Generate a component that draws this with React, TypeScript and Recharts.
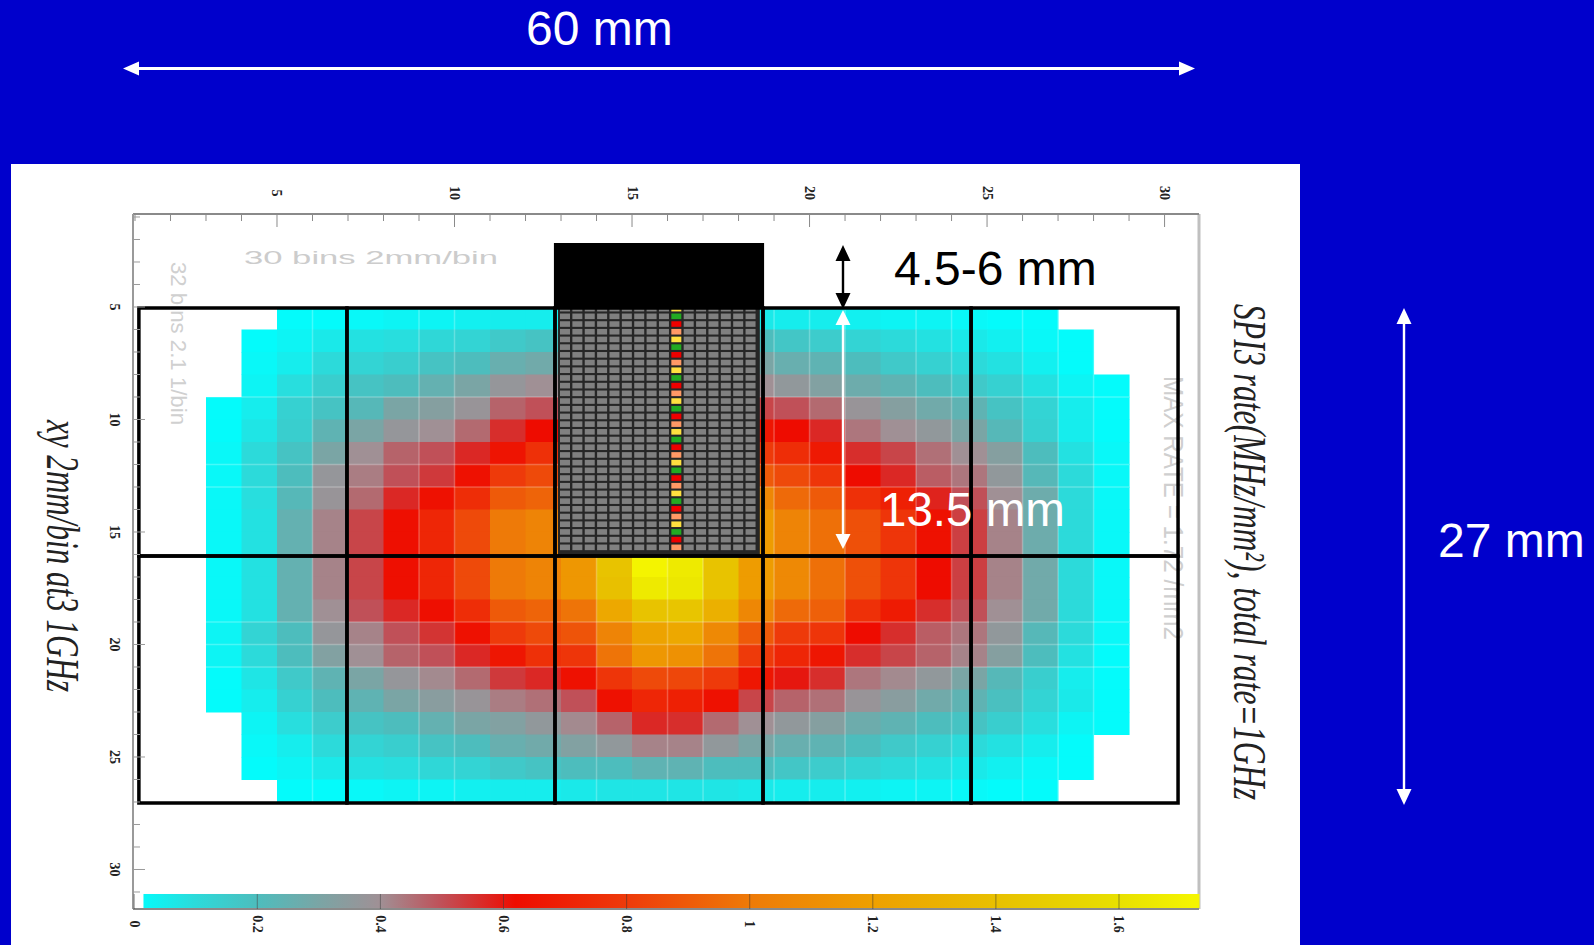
import React from "react";
import { ScatterChart, Scatter, XAxis, YAxis, ReferenceArea, ReferenceLine } from "recharts";

const n = null;

// bin numbers on the top and left axes
const xTicks = [1, 2, 3, 4, 5, 6, 7, 8, 9, 10, 11, 12, 13, 14, 15, 16, 17, 18, 19, 20, 21, 22, 23, 24, 25, 26, 27, 28, 29, 30];
const yTicks = [1, 2, 3, 4, 5, 6, 7, 8, 9, 10, 11, 12, 13, 14, 15, 16, 17, 18, 19, 20, 21, 22, 23, 24, 25, 26, 27, 28, 29, 30, 31];
const rateTicks = [0, 0.2, 0.4, 0.6, 0.8, 1, 1.2, 1.4, 1.6];

const firstBinX = 3;
const firstBinY = 5;

// rate per bin, MHz/mm2 (null = white, no hits)
const rateRows = [
  [n, n, 0.01, 0.01, 0.02, 0.03, 0.03, 0.04, 0.05, 0.05, 0.06, 0.07, 0.07, 0.07, 0.07, 0.06, 0.05, 0.05, 0.04, 0.03, 0.03, 0.02, 0.01, 0.01, n, n],
  [n, 0.01, 0.03, 0.06, 0.08, 0.09, 0.11, 0.12, 0.16, 0.18, 0.2, 0.2, 0.24, 0.24, 0.2, 0.2, 0.17, 0.15, 0.12, 0.1, 0.08, 0.06, 0.04, 0.02, 0.01, n],
  [n, 0.02, 0.05, 0.1, 0.12, 0.14, 0.18, 0.2, 0.26, 0.28, 0.32, 0.36, 0.42, 0.42, 0.36, 0.3, 0.26, 0.24, 0.2, 0.16, 0.13, 0.1, 0.08, 0.04, 0.01, n],
  [n, 0.03, 0.09, 0.14, 0.18, 0.2, 0.25, 0.3, 0.37, 0.4, 0.41, 0.47, 0.57, 0.56, 0.46, 0.4, 0.36, 0.32, 0.27, 0.24, 0.2, 0.16, 0.13, 0.08, 0.03, 0.01],
  [0.01, 0.05, 0.13, 0.18, 0.22, 0.3, 0.33, 0.38, 0.47, 0.5, 0.5, 0.64, 0.72, 0.7, 0.64, 0.52, 0.5, 0.46, 0.38, 0.33, 0.28, 0.24, 0.18, 0.12, 0.05, 0.01],
  [0.01, 0.07, 0.14, 0.24, 0.3, 0.37, 0.4, 0.46, 0.56, 0.62, 0.64, 0.78, 0.85, 0.84, 0.8, 0.66, 0.62, 0.57, 0.44, 0.4, 0.36, 0.3, 0.22, 0.13, 0.05, 0.01],
  [0.02, 0.1, 0.18, 0.3, 0.4, 0.47, 0.5, 0.57, 0.65, 0.76, 0.78, 0.98, 1.15, 1.12, 0.98, 0.8, 0.75, 0.67, 0.56, 0.52, 0.45, 0.4, 0.33, 0.2, 0.08, 0.02],
  [0.02, 0.1, 0.2, 0.37, 0.43, 0.5, 0.54, 0.64, 0.8, 0.85, 0.88, 1.05, 1.22, 1.25, 1.08, 0.9, 0.85, 0.78, 0.62, 0.57, 0.48, 0.44, 0.36, 0.22, 0.1, 0.02],
  [0.02, 0.09, 0.22, 0.38, 0.46, 0.57, 0.64, 0.75, 0.9, 0.93, 0.98, 1.25, 1.42, 1.43, 1.3, 1.07, 0.95, 0.9, 0.76, 0.7, 0.58, 0.5, 0.4, 0.27, 0.1, 0.02],
  [0.02, 0.08, 0.25, 0.42, 0.52, 0.63, 0.72, 0.85, 1, 1.05, 1.15, 1.4, 1.65, 1.65, 1.42, 1.18, 1.05, 0.97, 0.87, 0.78, 0.64, 0.53, 0.42, 0.27, 0.1, 0.02],
  [0.02, 0.08, 0.25, 0.42, 0.52, 0.63, 0.72, 0.85, 1, 1.05, 1.15, 1.4, 1.7, 1.65, 1.42, 1.18, 1.05, 0.97, 0.87, 0.78, 0.64, 0.53, 0.42, 0.27, 0.1, 0.02],
  [0.02, 0.08, 0.25, 0.42, 0.52, 0.63, 0.72, 0.85, 1, 1.05, 1.15, 1.42, 1.72, 1.66, 1.42, 1.18, 1.08, 0.97, 0.87, 0.78, 0.62, 0.53, 0.42, 0.28, 0.1, 0.02],
  [0.02, 0.08, 0.25, 0.42, 0.52, 0.63, 0.72, 0.85, 1, 1.05, 1.15, 1.4, 1.66, 1.64, 1.42, 1.18, 1.08, 0.97, 0.87, 0.78, 0.62, 0.53, 0.42, 0.28, 0.1, 0.02],
  [0.02, 0.08, 0.25, 0.4, 0.5, 0.57, 0.63, 0.75, 0.9, 0.93, 0.98, 1.25, 1.42, 1.43, 1.3, 1.07, 0.95, 0.92, 0.76, 0.68, 0.56, 0.5, 0.4, 0.28, 0.1, 0.02],
  [0.03, 0.12, 0.2, 0.37, 0.42, 0.5, 0.55, 0.64, 0.8, 0.85, 0.88, 1.05, 1.22, 1.25, 1.08, 0.9, 0.8, 0.78, 0.62, 0.56, 0.48, 0.44, 0.36, 0.22, 0.1, 0.02],
  [0.03, 0.1, 0.2, 0.32, 0.4, 0.47, 0.5, 0.57, 0.66, 0.76, 0.78, 0.98, 1.15, 1.12, 0.98, 0.8, 0.72, 0.66, 0.56, 0.52, 0.47, 0.42, 0.33, 0.2, 0.08, 0.01],
  [0.01, 0.07, 0.16, 0.24, 0.3, 0.37, 0.41, 0.46, 0.54, 0.57, 0.64, 0.78, 0.85, 0.84, 0.8, 0.66, 0.6, 0.56, 0.44, 0.41, 0.36, 0.3, 0.22, 0.14, 0.05, 0.01],
  [0.01, 0.05, 0.13, 0.2, 0.24, 0.3, 0.34, 0.38, 0.43, 0.45, 0.5, 0.64, 0.72, 0.7, 0.64, 0.52, 0.47, 0.45, 0.38, 0.34, 0.28, 0.24, 0.19, 0.12, 0.06, 0.01],
  [n, 0.03, 0.09, 0.15, 0.18, 0.2, 0.25, 0.3, 0.32, 0.36, 0.41, 0.47, 0.57, 0.56, 0.46, 0.4, 0.36, 0.33, 0.27, 0.24, 0.2, 0.18, 0.14, 0.09, 0.03, 0.01],
  [n, 0.02, 0.05, 0.1, 0.12, 0.14, 0.18, 0.2, 0.26, 0.28, 0.32, 0.36, 0.42, 0.42, 0.36, 0.3, 0.26, 0.24, 0.2, 0.16, 0.13, 0.1, 0.08, 0.05, 0.01, n],
  [n, 0.01, 0.03, 0.06, 0.08, 0.09, 0.11, 0.12, 0.16, 0.18, 0.2, 0.2, 0.24, 0.24, 0.2, 0.2, 0.17, 0.15, 0.12, 0.1, 0.08, 0.06, 0.04, 0.02, 0.01, n],
  [n, n, 0.01, 0.01, 0.02, 0.03, 0.03, 0.04, 0.05, 0.05, 0.06, 0.07, 0.07, 0.07, 0.07, 0.06, 0.05, 0.05, 0.04, 0.03, 0.03, 0.02, 0.01, 0.01, n, n],
];

// colour scale of the bar at the bottom
const rateStops = [0, 0.1, 0.2, 0.3, 0.4, 0.5, 0.62, 0.8, 1, 1.2, 1.4, 1.6, 1.72];
const rateColors = ["#00ffff", "#2cdada", "#4dbdbd", "#7aa5a5", "#a09095", "#c05058", "#ee0c00", "#ee3a0a", "#ee7a08", "#eea000", "#e8c000", "#e8e000", "#f4f400"];
const barEdges = [0.015, 0.2, 0.4, 0.6, 0.8, 1, 1.2, 1.4, 1.6, 1.73];
const barLevel = 31.4;

// the module outlines
const sectorX = [1.11, 6.97, 12.83, 18.69, 24.55, 30.38];
const sectorY = [5.04, 16.07, 27.04];

// lighter seams left in the map
const seamX = [6, 9, 10, 14, 16, 17, 19, 20, 21, 23, 24, 26, 27, 28];
const seamY = [9, 12, 13, 19, 20, 21];

// readout pixels of the chip
const sensorCols = [0, 1, 2, 3, 4, 5, 6, 7, 8, 9, 10, 11, 12, 13, 14, 15];
const sensorRows = [-1, 0, 1, 2, 3, 4, 5, 6, 7, 8, 9, 10, 11, 12, 13, 14, 15, 16, 17, 18, 19, 20, 21, 22, 23, 24, 25, 26, 27, 28, 29, 30];
const stripCol = 9;
const stripColors = ["#22aa22", "#ee0000", "#ff9966", "#ffe040"];

const hexToRgb = (hex: string) => [1, 3, 5].map((i) => parseInt(hex.slice(i, i + 2), 16));

function rateColor(v: number) {
  let i = 0;
  while (i < rateStops.length - 2 && v > rateStops[i + 1]) i++;
  const t = Math.min(1, (v - rateStops[i]) / (rateStops[i + 1] - rateStops[i]));
  const a = hexToRgb(rateColors[i]);
  const b = hexToRgb(rateColors[i + 1]);
  const c = a.map((ch, k) => Math.round(ch + (b[k] - ch) * t));
  return `rgb(${c[0]},${c[1]},${c[2]})`;
}

const heatCells = rateRows.flatMap((row, r) =>
  row.flatMap((rate, c) => (rate === null ? [] : [{ x: firstBinX + c + 0.5, y: firstBinY + r + 0.5, rate }]))
);

const sensorCells = sensorRows.flatMap((row) =>
  sensorCols.map((col) => ({
    col,
    row,
    fill: col === stripCol ? stripColors[(row + 4) % 4] : "#808080",
  }))
);

const barCells = barEdges.slice(0, -1).map((rate, i) => ({ rate, next: barEdges[i + 1], y: barLevel }));

const HeatCell = (props: any) => (
  <rect x={props.cx - 17.75} y={props.cy - 11.25} width={36} height={23} fill={rateColor(props.payload.rate)} />
);

const SensorCell = (props: any) => (
  <rect x={props.cx - 5} y={props.cy - 2.8} width={10} height={5.6} fill={props.payload.fill} />
);

// one stretch of the colour bar, 615px per unit of rate
const BarCell = (props: any) => (
  <rect x={props.cx} y={props.cy - 7} width={(props.payload.next - props.payload.rate) * 615 + 0.5} height={14} fill="url(#rateBar)" />
);

const TopTick = ({ x, y, payload }: any) => {
  const major = payload.value % 5 === 0;
  return (
    <g>
      <line x1={x} y1={y} x2={x} y2={y + (major ? 13 : 7)} stroke="#8a8a8a" strokeWidth={1} />
      {major && (
        <text x={x} y={y - 21} transform={`rotate(90 ${x} ${y - 21})`} textAnchor="middle" dominantBaseline="central" fontFamily="Liberation Serif" fontWeight="bold" fontSize={14} fill="#222">
          {payload.value}
        </text>
      )}
    </g>
  );
};

const LeftTick = ({ x, y, payload }: any) => {
  const major = payload.value % 5 === 0;
  return (
    <g>
      <line x1={x} y1={y} x2={x + (major ? 12 : 7)} y2={y} stroke="#9a9a9a" strokeWidth={1} />
      {major && (
        <text x={x - 19} y={y} transform={`rotate(90 ${x - 19} ${y})`} textAnchor="middle" dominantBaseline="central" fontFamily="Liberation Serif" fontWeight="bold" fontSize={14} fill="#222">
          {payload.value}
        </text>
      )}
    </g>
  );
};

const RateTick = ({ x, y, payload }: any) => (
  <g>
    <line x1={x} y1={y} x2={x} y2={y - 15} stroke="#333" strokeOpacity={0.5} strokeWidth={1} />
    <text x={x} y={y + 15} transform={`rotate(90 ${x} ${y + 15})`} textAnchor="middle" dominantBaseline="central" fontFamily="Liberation Serif" fontWeight="bold" fontSize={14} fill="#222">
      {payload.value}
    </text>
  </g>
);

const sans = "Liberation Sans";

export default function App() {
  return (
    <div style={{ position: "absolute", left: 0, top: 0, width: 1594, height: 945, background: "#0000cc", overflow: "hidden" }}>
      <div style={{ position: "absolute", left: 11, top: 164, width: 1289, height: 781, background: "#fff" }} />
      <div style={{ position: "absolute", left: 0, top: 0 }}>
        <ScatterChart width={1594} height={945} margin={{ top: 174, right: 395, bottom: 6, left: 93 }}>
          <defs>
            <linearGradient id="rateBar" gradientUnits="userSpaceOnUse" x1={134} y1={0} x2={1192} y2={0}>
              {rateStops.map((s, i) => (
                <stop key={s} offset={s / 1.72} stopColor={rateColors[i]} />
              ))}
            </linearGradient>
          </defs>

          <XAxis xAxisId="bin" dataKey="x" type="number" orientation="top" height={40} domain={[0.944, 30.97]} ticks={xTicks} interval={0} tick={<TopTick />} tickSize={0} tickMargin={0} tickLine={false} axisLine={{ stroke: "#8a8a8a", strokeWidth: 2 }} />
          <YAxis yAxisId="bin" dataKey="y" type="number" width={40} reversed domain={[0.867, 31.756]} ticks={yTicks} interval={0} tick={<LeftTick />} tickSize={0} tickMargin={0} tickLine={false} axisLine={{ stroke: "#9a9a9a", strokeWidth: 2 }} />
          <XAxis xAxisId="rate" dataKey="rate" type="number" orientation="bottom" height={30} domain={[-0.002, 1.73]} ticks={rateTicks} interval={0} tick={<RateTick />} tickSize={0} tickMargin={0} tickLine={false} axisLine={{ stroke: "#8a8a8a", strokeWidth: 2 }} />
          <XAxis xAxisId="sensor" dataKey="col" type="number" hide domain={[-34.92, 51.25]} />
          <YAxis yAxisId="sensor" dataKey="row" type="number" hide reversed domain={[-13.29, 76.97]} />

          {/* faint labels printed inside the frame */}
          <text x={244} y={264} fontFamily={sans} fontSize={19} fill="#cccccc" textLength={254} lengthAdjust="spacingAndGlyphs">30 bins 2mm/bin</text>
          <text x={171} y={262} transform="rotate(90 171 262)" fontFamily={sans} fontSize={22} fill="#d0d0d0" textLength={163} lengthAdjust="spacingAndGlyphs">32 bins 2.1 1/bin</text>
          <text x={1164} y={376} transform="rotate(90 1164 376)" fontFamily={sans} fontSize={28} fill="#cfcfcf" textLength={264} lengthAdjust="spacingAndGlyphs">MAX RATE = 1.72 /mm2</text>

          {/* axis titles, narrow along the reading direction as in the scan */}
          <text transform="translate(47 420) rotate(90) scale(1 1.3)" fontFamily="Liberation Serif" fontStyle="italic" fontSize={35} fill="#222" textLength={272} lengthAdjust="spacingAndGlyphs">xy 2mm/bin at3 1GHz</text>
          <text transform="translate(1234 304) rotate(90) scale(1 1.3)" fontFamily="Liberation Serif" fontStyle="italic" fontSize={35} fill="#222" textLength={496} lengthAdjust="spacingAndGlyphs">SPI3 rate(MHz/mm²), total rate=1GHz</text>

          <ReferenceLine xAxisId="bin" yAxisId="bin" x={30.97} stroke="#c0c0c0" strokeWidth={3} />

          <Scatter xAxisId="rate" yAxisId="bin" data={barCells} dataKey="y" shape={BarCell} isAnimationActive={false} zIndex={400} />
          <Scatter xAxisId="bin" yAxisId="bin" data={heatCells} dataKey="y" shape={HeatCell} isAnimationActive={false} zIndex={600} />

          {seamX.map((v) => (
            <ReferenceLine key={`sx${v}`} xAxisId="bin" yAxisId="bin" segment={[{ x: v, y: 5.1 }, { x: v, y: 27 }]} stroke="#fff" strokeOpacity={0.25} strokeWidth={1.5} zIndex={650} />
          ))}
          {seamY.map((v) => (
            <ReferenceLine key={`sy${v}`} xAxisId="bin" yAxisId="bin" segment={[{ x: 3, y: v }, { x: 29, y: v }]} stroke="#fff" strokeOpacity={0.25} strokeWidth={1.5} zIndex={650} />
          ))}

          <ReferenceArea xAxisId="bin" yAxisId="bin" x1={12.915} x2={18.6} y1={5.09} y2={16.07} fill="#262626" fillOpacity={1} stroke="none" zIndex={660} />
          <Scatter xAxisId="sensor" yAxisId="sensor" data={sensorCells} dataKey="row" shape={SensorCell} isAnimationActive={false} zIndex={670} />
          <ReferenceArea xAxisId="bin" yAxisId="bin" x1={12.8} x2={18.72} y1={2.16} y2={5.09} fill="#000" fillOpacity={1} stroke="none" zIndex={680} />

          {sectorX.slice(0, -1).flatMap((x1, i) =>
            sectorY.slice(0, -1).map((y1, j) => (
              <ReferenceArea key={`s${i}${j}`} xAxisId="bin" yAxisId="bin" x1={x1} x2={sectorX[i + 1]} y1={y1} y2={sectorY[j + 1]} fill="none" stroke="#000" strokeWidth={3.5} zIndex={690} />
            ))
          )}
        </ScatterChart>
      </div>

      {/* dimension arrows and labels sit on top of the chart */}
      <svg width={1594} height={945} style={{ position: "absolute", left: 0, top: 0 }}>
        <path d="M123 68.5 L139 61.5 L139 67 L1179 67 L1179 61.5 L1195 68.5 L1179 75.5 L1179 70 L139 70 L139 75.5 Z" fill="#fff" />
        <path d="M1404 308 L1411.5 324 L1405.2 324 L1405.2 789 L1411.5 789 L1404 805 L1396.5 789 L1402.8 789 L1402.8 324 L1396.5 324 Z" fill="#fff" />
        <path d="M843 245 L850.5 261 L844.2 261 L844.2 293 L850.5 293 L843 309 L835.5 293 L841.8 293 L841.8 261 L835.5 261 Z" fill="#000" />
        <path d="M843 310 L850.5 325 L844.2 325 L844.2 534 L850.5 534 L843 549 L835.5 534 L841.8 534 L841.8 325 L835.5 325 Z" fill="#fff" />

        <text x={526} y={45} fontFamily={sans} fontSize={48} fill="#fff">60 mm</text>
        <text x={894} y={285} fontFamily={sans} fontSize={48} fill="#000">4.5-6 mm</text>
        <text x={880} y={526} fontFamily={sans} fontSize={47.5} fill="#fff">13.5 mm</text>
        <text x={1438} y={557} fontFamily={sans} fontSize={48} fill="#fff">27 mm</text>
      </svg>
    </div>
  );
}
